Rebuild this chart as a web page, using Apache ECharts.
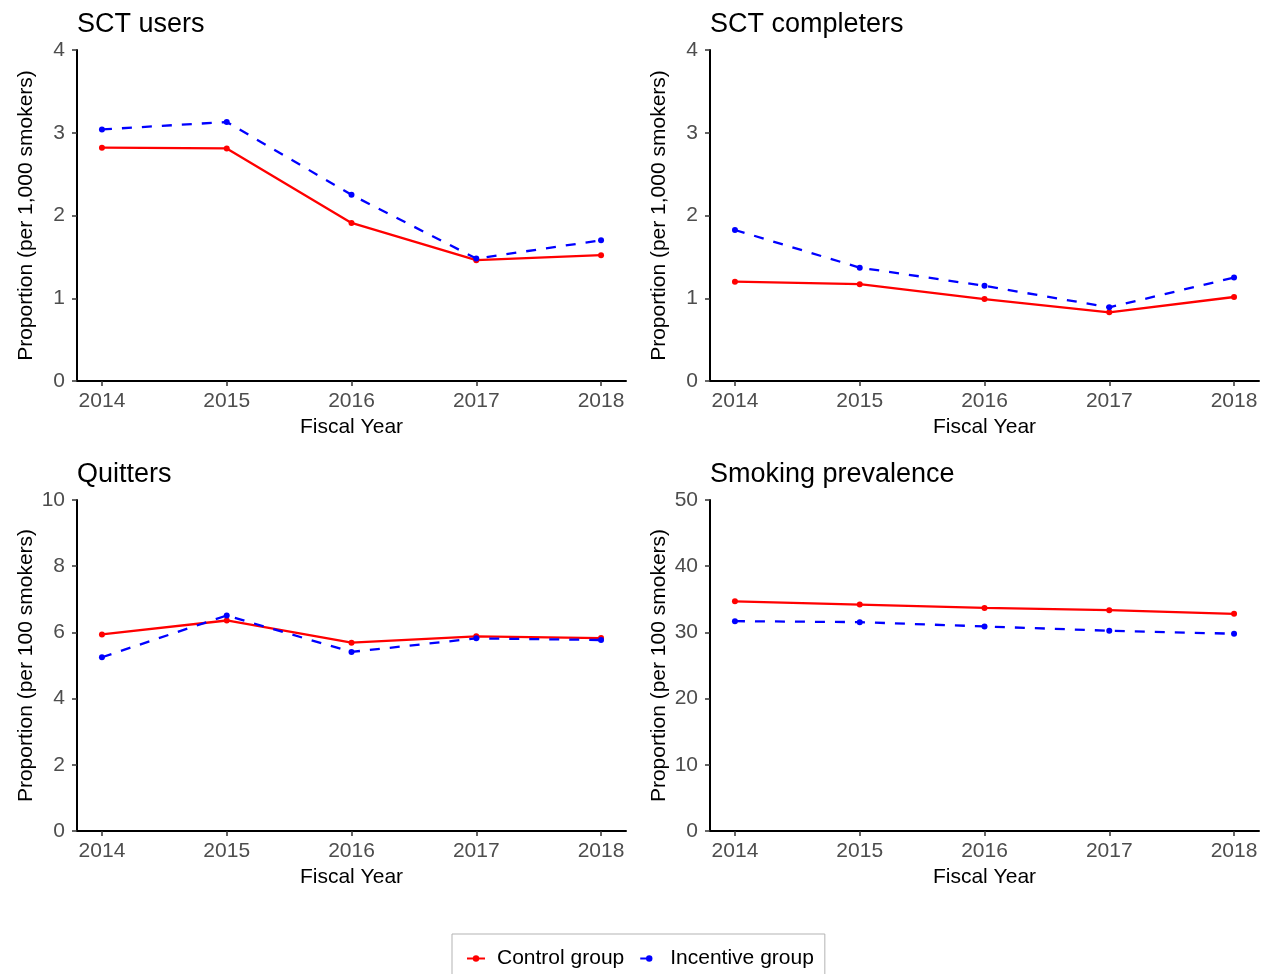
<!DOCTYPE html>
<html>
<head>
<meta charset="utf-8">
<script src="https://cdn.jsdelivr.net/npm/echarts@6/dist/echarts.min.js"></script>
<style>html,body{margin:0;padding:0;background:#fff;}#c{width:1266px;height:974px;}</style>
</head>
<body>
<div id="c"></div>
<script>
var years = [2014, 2015, 2016, 2017, 2018];
var panelTitles = ['SCT users', 'SCT completers', 'Quitters', 'Smoking prevalence'];
var yAxisTitles = ['Proportion (per 1,000 smokers)', 'Proportion (per 1,000 smokers)', 'Proportion (per 100 smokers)', 'Proportion (per 100 smokers)'];
var yMax = [4, 4, 10, 50];
var yStep = [1, 1, 2, 10];
var seriesNames = ['Control group', 'Incentive group'];

var sctUsersControl = [2.82, 2.81, 1.91, 1.46, 1.52];
var sctUsersIncentive = [3.04, 3.13, 2.25, 1.48, 1.70];
var sctCompletersControl = [1.20, 1.17, 0.99, 0.83, 1.015];
var sctCompletersIncentive = [1.825, 1.37, 1.15, 0.89, 1.25];
var quittersControl = [5.94, 6.36, 5.69, 5.88, 5.83];
var quittersIncentive = [5.25, 6.51, 5.41, 5.82, 5.77];
var prevalenceControl = [34.7, 34.2, 33.7, 33.35, 32.8];
var prevalenceIncentive = [31.7, 31.55, 30.9, 30.25, 29.8];

var controlData = [sctUsersControl, sctCompletersControl, quittersControl, prevalenceControl];
var incentiveData = [sctUsersIncentive, sctCompletersIncentive, quittersIncentive, prevalenceIncentive];

var FONT = 'Liberation Sans, Arial, sans-serif';
var grids = [
  {left: 77, top: 50, width: 549, height: 331},
  {left: 710, top: 50, width: 549, height: 331},
  {left: 77, top: 500, width: 549, height: 331},
  {left: 710, top: 500, width: 549, height: 331}
];

function pairs(arr) { return years.map(function (y, i) { return [y, arr[i]]; }); }

var option = {
  backgroundColor: '#ffffff',
  animation: false,
  textStyle: {fontFamily: FONT},
  title: [], grid: [], xAxis: [], yAxis: [], series: [],
  legend: {
    left: 452, top: 934,
    data: seriesNames,
    borderColor: '#b3b3b3', borderWidth: 1, borderRadius: 0,
    padding: [14, 11, 14, 14],
    itemGap: 15, itemWidth: 18, itemHeight: 8,
    textStyle: {fontSize: 21, color: '#000', fontFamily: FONT, padding: [0, 0, 0, 7]}
  }
};

for (var i = 0; i < 4; i++) {
  var g = grids[i];
  option.grid.push({left: g.left, top: g.top, width: g.width, height: g.height, containLabel: false});
  option.title.push({
    text: panelTitles[i], left: g.left, top: g.top - 39, padding: 0,
    textStyle: {fontSize: 27, fontWeight: 'normal', color: '#000', fontFamily: FONT}
  });
  option.xAxis.push({
    type: 'value', gridIndex: i, min: 2013.8, max: 2018.2,
    name: 'Fiscal Year', nameLocation: 'middle', nameGap: 36,
    nameTextStyle: {fontSize: 21, color: '#000', fontFamily: FONT},
    axisLine: {show: true, onZero: false, lineStyle: {color: '#000', width: 2}},
    axisTick: {show: true, length: 5, lineStyle: {color: '#333', width: 1.5}, customValues: years},
    axisLabel: {fontSize: 21, color: '#4d4d4d', margin: 10, customValues: years, fontFamily: FONT, formatter: function (v) { return String(v); }},
    splitLine: {show: false}
  });
  option.yAxis.push({
    type: 'value', gridIndex: i, min: 0, max: yMax[i], interval: yStep[i],
    name: yAxisTitles[i], nameLocation: 'middle', nameGap: 40,
    nameTextStyle: {fontSize: 21, color: '#000', fontFamily: FONT},
    axisLine: {show: true, lineStyle: {color: '#000', width: 2}},
    axisTick: {show: true, length: 5, lineStyle: {color: '#333', width: 1.5}},
    axisLabel: {fontSize: 21, color: '#4d4d4d', margin: 12, fontFamily: FONT},
    splitLine: {show: false}
  });
  option.series.push({
    name: seriesNames[0], type: 'line', xAxisIndex: i, yAxisIndex: i,
    data: pairs(controlData[i]), symbol: 'circle', symbolSize: 6,
    itemStyle: {color: '#ff0000'}, lineStyle: {color: '#ff0000', width: 2.3, type: 'solid'}
  });
  option.series.push({
    name: seriesNames[1], type: 'line', xAxisIndex: i, yAxisIndex: i,
    data: pairs(incentiveData[i]), symbol: 'circle', symbolSize: 6,
    itemStyle: {color: '#0000ff'}, lineStyle: {color: '#0000ff', width: 2.3, type: [10, 10]}
  });
}

var chart = echarts.init(document.getElementById('c'), null, {renderer: 'canvas'});
chart.setOption(option);
</script>
</body>
</html>
